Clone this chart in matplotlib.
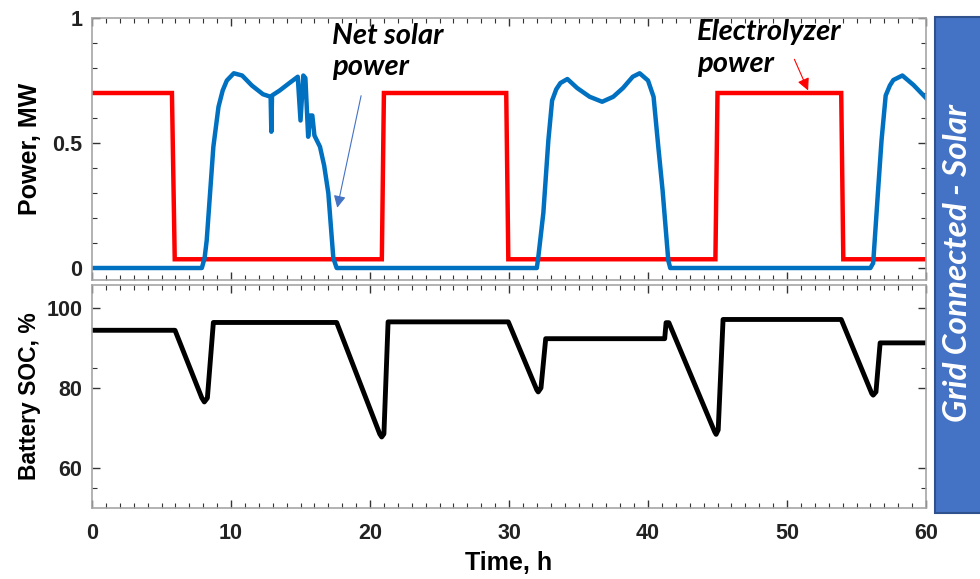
import numpy as np
import matplotlib
matplotlib.use("Agg")
import matplotlib.pyplot as plt
from matplotlib.patches import Rectangle
from matplotlib.ticker import MultipleLocator, FixedLocator

# ------------------------------------------------------------
# Data
# ------------------------------------------------------------

# Electrolyzer power, MW
elec_t = [0, 5.75, 5.95, 20.85, 21.0, 29.8, 29.95, 44.85, 45.0, 53.9, 54.05, 60]
elec_p = [0.70, 0.70, 0.035, 0.035, 0.70, 0.70, 0.035, 0.035, 0.70, 0.70, 0.035, 0.035]

# Net solar power, MW
solar_t = [0, 7.9, 8.1, 8.25, 8.73, 9.1, 9.4, 9.7, 10.2, 10.8, 11.5, 12.3, 12.85, 12.9, 12.95,
           13.5, 14.2, 14.8, 15.0, 15.2, 15.35, 15.55, 15.7, 15.85, 16.0, 16.4, 16.7, 17.0,
           17.36, 17.6,
           32.0, 32.1, 32.47, 32.83, 33.1, 33.4, 33.7, 34.2, 34.9, 35.8, 36.7, 37.5, 38.2,
           38.9, 39.4, 40.0, 40.4, 40.74, 41.05, 41.46, 41.6,
           56.0, 56.2, 56.57, 56.8, 57.1, 57.4, 57.65, 58.3, 59.1, 60]
solar_p = [0, 0, 0.04, 0.11, 0.485, 0.645, 0.71, 0.75, 0.779, 0.77, 0.73, 0.695, 0.685, 0.545, 0.69,
           0.71, 0.74, 0.765, 0.59, 0.77, 0.76, 0.525, 0.61, 0.61, 0.53, 0.485, 0.41, 0.30,
           0.04, 0.0,
           0.0, 0.04, 0.22, 0.51, 0.67, 0.715, 0.74, 0.756, 0.72, 0.685, 0.665, 0.685, 0.72,
           0.765, 0.779, 0.75, 0.685, 0.485, 0.31, 0.03, 0.0,
           0.0, 0.02, 0.325, 0.51, 0.69, 0.73, 0.752, 0.77, 0.732, 0.68]

# Battery state of charge, %
soc_t = [0, 5.97, 7.9, 8.08, 8.3, 8.73, 17.6, 20.7, 20.84, 21.0, 21.3, 29.95, 32.0, 32.1,
         32.3, 32.64, 41.2, 41.3, 41.5, 44.8, 44.9, 45.05, 45.4, 53.9, 56.1, 56.2, 56.4, 56.7, 60]
soc_v = [94.4, 94.4, 77.5, 76.5, 77.5, 96.35, 96.35, 68.5, 67.75, 68.5, 96.5, 96.5, 79.5, 79.0,
         80.0, 92.3, 92.3, 96.3, 96.3, 69.0, 68.4, 69.5, 97.1, 97.1, 78.6, 78.2, 79.0, 91.25, 91.25]

x_ticks = [0, 10, 20, 30, 40, 50, 60]
power_ticks = [0, 0.5, 1]
power_tick_labels = ["0", "0.5", "1"]
soc_ticks = [60, 80, 100]
soc_minor = [55, 85]

# ------------------------------------------------------------
# Figure
# ------------------------------------------------------------

plt.rcParams['font.family'] = ['Liberation Sans', 'DejaVu Sans']
plt.rcParams['font.weight'] = 'bold'

fig = plt.figure(figsize=(9.8, 5.79), dpi=100)
ax1 = fig.add_axes([0.0939, 0.5164, 0.851, 0.4525])
ax2 = fig.add_axes([0.0939, 0.1226, 0.851, 0.3851])

frame_col = "#a6a6a6"
tick_col = "#333333"

for ax in (ax1, ax2):
    for sp in ax.spines.values():
        sp.set_color(frame_col)
        sp.set_linewidth(1.2)
    ax.set_xlim(0, 60)
    ax.xaxis.set_major_locator(FixedLocator(x_ticks))
    ax.xaxis.set_minor_locator(MultipleLocator(1))
    ax.tick_params(which='both', direction='in', top=True, right=True,
                   color=tick_col, labelcolor='#222222', labelsize=15.5)
    ax.tick_params(which='major', length=6, width=1)
    ax.tick_params(which='minor', length=3.5, width=0.8)

# --- power panel
ax1.plot(elec_t, elec_p, color="#ff0000", lw=3.2, solid_joinstyle='miter')
ax1.plot(solar_t, solar_p, color="#0070c0", lw=3.2)
ax1.set_ylim(-0.048, 1.0)
ax1.set_yticks(power_ticks)
ax1.set_yticklabels(power_tick_labels)
ax1.yaxis.set_minor_locator(MultipleLocator(0.1))
ax1.tick_params(axis='x', labelbottom=False)
ax1.tick_params(axis='y', pad=7)
ax1.set_ylabel("Power, MW", fontsize=18, fontweight='bold', labelpad=7)

ann_font = dict(family=['Lato', 'Open Sans', 'DejaVu Sans'], fontsize=21,
                fontweight='bold', style='italic', color='black')
ax1.text(17.3, 0.98, "Net solar\npower", ha='left', va='top', linespacing=1.25, **ann_font)
ax1.annotate("", xy=(17.6, 0.23), xytext=(19.4, 0.70),
             arrowprops=dict(arrowstyle='-|>', color="#4472c4", lw=0.8,
                             mutation_scale=18))
ax1.text(43.5, 0.995, "Electrolyzer\npower", ha='left', va='top', linespacing=1.25, **ann_font)
ax1.annotate("", xy=(51.6, 0.70), xytext=(50.45, 0.845),
             arrowprops=dict(arrowstyle='-|>', color="#ff0000", lw=0.8,
                             mutation_scale=18))

# --- battery panel
ax2.plot(soc_t, soc_v, color="black", lw=3.5)
ax2.set_ylim(50, 105.7)
ax2.yaxis.set_major_locator(FixedLocator(soc_ticks))
ax2.yaxis.set_minor_locator(FixedLocator(soc_minor))
ax2.tick_params(axis='x', pad=11)
ax2.tick_params(axis='y', pad=7)
ax2.set_ylabel("Battery SOC, %", fontsize=16.5, fontweight='bold', labelpad=4)
ax2.set_xlabel("Time, h", fontsize=18, fontweight='bold', labelpad=5)

# side label panel
fig.patches.append(Rectangle((0.954, 0.114), 0.06, 0.857, transform=fig.transFigure,
                             facecolor="#4472c4", edgecolor="#2f528f", lw=1.5))
fig.text(0.977, 0.545, "Grid Connected - Solar", rotation=90, ha='center', va='center',
         color='white', family=['Lato', 'Open Sans', 'DejaVu Sans'], fontsize=24,
         fontweight='bold', style='italic')

plt.savefig("out.png", dpi=100)
print("Saved: out.png")
